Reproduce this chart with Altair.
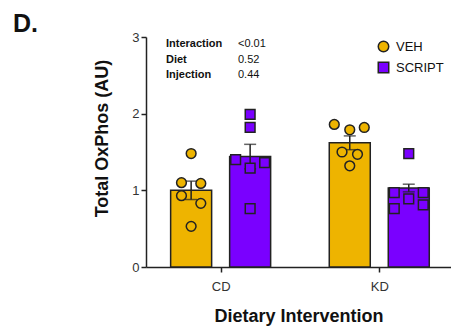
import altair as alt
import pandas as pd

# Diet groups on the x axis and treatment groups within each diet
diets = ["CD", "KD"]
groups = ["VEH", "SCRIPT"]

# Bar heights (mean) and SEM, in diet order
veh_mean = [1.00, 1.62]
script_mean = [1.44, 1.03]
veh_sem = [0.12, 0.09]
script_sem = [0.16, 0.05]

# Individual animals
veh_cd = [1.48, 1.10, 1.09, 0.93, 0.83, 0.53]
veh_kd = [1.86, 1.79, 1.82, 1.50, 1.47, 1.32]
script_cd = [1.99, 1.82, 1.40, 1.36, 1.29, 0.76]
script_kd = [1.48, 0.97, 0.97, 0.89, 0.76, 0.81]

# Two-way ANOVA summary
stat_names = ["Interaction", "Diet", "Injection"]
stat_values = ["<0.01", "0.52", "0.44"]

# ---- layout helpers (pixels) ----
UNIT = 164.0            # pixels between diet centres
GROUP_SHIFT = 30.5      # bar centre offset from the diet centre
# horizontal scatter of points inside each bar, in pixels
spread = {
    ("VEH", "CD"): [0, -10, 10, -10, 10, 0],
    ("VEH", "KD"): [-16, 0, 15, -8, 8, 0],
    ("SCRIPT", "CD"): [0, 0, -15, 15, 0, 0],
    ("SCRIPT", "KD"): [0, -15, 15, 0, -15, 15],
}

YELLOW = "#EEB400"
PURPLE = "#7A00FF"
INK = "#222222"
FONT = "Liberation Sans"

shift = {"VEH": -GROUP_SHIFT / UNIT, "SCRIPT": GROUP_SHIFT / UNIT}

bar_rows = []
for i, d in enumerate(diets):
    for g, m, s in (("VEH", veh_mean, veh_sem), ("SCRIPT", script_mean, script_sem)):
        bar_rows.append({"diet": d, "group": g, "pos": i + 1 + shift[g],
                         "mean": m[i], "lo": m[i] - s[i], "hi": m[i] + s[i]})
bars_df = pd.DataFrame(bar_rows)

pt_rows = []
for (g, d), vals in (
    (("VEH", "CD"), veh_cd), (("VEH", "KD"), veh_kd),
    (("SCRIPT", "CD"), script_cd), (("SCRIPT", "KD"), script_kd),
):
    i = diets.index(d)
    for v, dx in zip(vals, spread[(g, d)]):
        pt_rows.append({"diet": d, "group": g, "value": v,
                        "pos": i + 1 + shift[g] + dx / UNIT})
pts_df = pd.DataFrame(pt_rows)

stats_df = pd.DataFrame({"name": stat_names, "val": stat_values,
                         "row": list(range(len(stat_names)))})

W, H = 305, 230
x_dom = [1 - 72 / UNIT, 2 + 69 / UNIT]

label_expr = " : ".join(
    [f"datum.value == {i + 1} ? '{d}'" for i, d in enumerate(diets)] + ["''"]
)

x_enc = alt.X(
    "pos:Q",
    scale=alt.Scale(domain=x_dom, nice=False, zero=False),
    axis=alt.Axis(values=[1, 2], labelExpr=label_expr, title="Dietary Intervention",
                  grid=False, tickSize=5, labelFontSize=13, labelPadding=8,
                  titleFontSize=18, titleFontWeight="bold", titlePadding=14),
)
y_scale = alt.Scale(domain=[0, 3], nice=False)
y_axis = alt.Axis(values=[0, 1, 2, 3], format="d", title="Total OxPhos (AU)", grid=False,
                  tickSize=5, labelFontSize=13, labelPadding=2,
                  titleFontSize=18, titleFontWeight="bold",
                  titleX=-44, titleY=101, titleAngle=-90, titleBaseline="middle")

color_scale = alt.Scale(domain=groups, range=[YELLOW, PURPLE])
shape_scale = alt.Scale(domain=groups, range=["circle", "square"])
legend = alt.Legend(orient="none", legendX=231, legendY=3,
                    padding=0, symbolSize=110, labelFontSize=13,
                    labelOffset=6, rowPadding=4, title=None,
                    symbolStrokeColor=INK, symbolStrokeWidth=1.5,
                    labelColor="#111")

bars = alt.Chart(bars_df).mark_bar(size=41, stroke=INK, strokeWidth=1.5).encode(
    x=x_enc,
    y=alt.Y("mean:Q", scale=y_scale, axis=y_axis),
    color=alt.Color("group:N", scale=color_scale, title=None, legend=legend),
)

err = alt.Chart(bars_df).mark_rule(color=INK, strokeWidth=1.5).encode(
    x="pos:Q", y="lo:Q", y2="hi:Q"
)
cap_hi = alt.Chart(bars_df).mark_tick(color=INK, thickness=1.5, size=12,
                                      orient="horizontal").encode(x="pos:Q", y="hi:Q")
cap_lo = alt.Chart(bars_df).mark_tick(color=INK, thickness=1.5, size=12,
                                      orient="horizontal").encode(x="pos:Q", y="lo:Q")

points = alt.Chart(pts_df).mark_point(filled=True, size=95, stroke=INK,
                                      strokeWidth=1.5, opacity=1).encode(
    x="pos:Q",
    y="value:Q",
    color=alt.Color("group:N", scale=color_scale, title=None, legend=legend),
    shape=alt.Shape("group:N", scale=shape_scale, title=None, legend=legend),
)

row_scale = alt.Scale(domain=[0, 2], range=[10, 41])
stat_names_txt = alt.Chart(stats_df).mark_text(
    align="left", baseline="alphabetic", fontSize=11, fontWeight="bold", color="#111"
).encode(
    x=alt.value(20),
    y=alt.Y("row:Q", axis=None, scale=row_scale),
    text="name:N",
)
stat_vals_txt = alt.Chart(stats_df).mark_text(
    align="left", baseline="alphabetic", fontSize=11, color="#111"
).encode(
    x=alt.value(92),
    y=alt.Y("row:Q", axis=None, scale=row_scale),
    text="val:N",
)

panel_label = alt.Chart(pd.DataFrame({"t": ["D."]})).mark_text(
    align="left", baseline="alphabetic", fontSize=25, fontWeight="bold", color="#111"
).encode(x=alt.value(-133), y=alt.value(-5), text="t:N")

chart = alt.layer(bars, err, cap_hi, cap_lo, points).resolve_scale(y="shared")
chart = alt.layer(chart, alt.layer(stat_names_txt, stat_vals_txt), panel_label).resolve_scale(
    y="independent"
).properties(
    width=W, height=H,
    autosize=alt.AutoSizeParams(type="none"),
    padding={"left": 146, "top": 37, "right": 0, "bottom": 68},
).configure(font=FONT).configure_view(stroke=None).configure_axis(
    domainColor=INK, domainWidth=1.5, tickColor=INK, tickWidth=1.5,
    labelColor="#333", titleColor="#111", labelFont=FONT, titleFont=FONT
).configure_legend(labelFont=FONT)

chart.save("out.html", embed_options={"renderer": "svg", "actions": False})
